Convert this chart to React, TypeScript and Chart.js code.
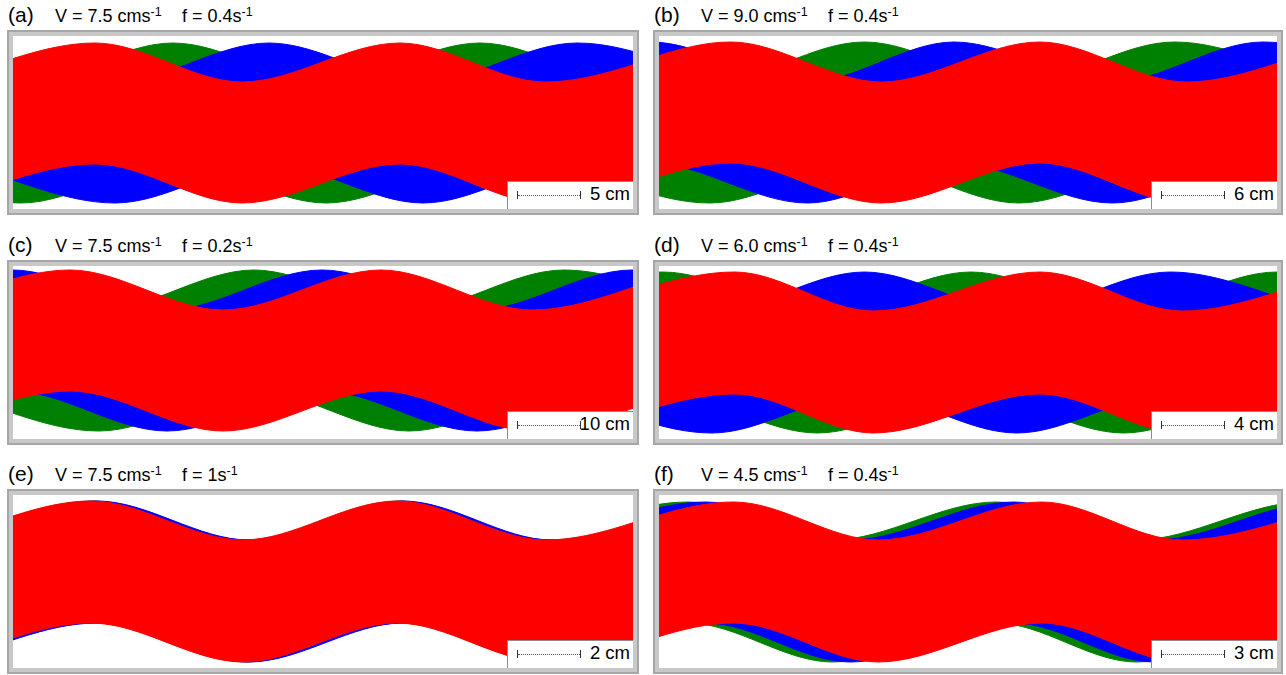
import React, { useEffect, useRef } from 'react';
import { Chart, registerables } from 'chart.js';

Chart.register(...registerables);

// Each band row: [x, top edge y, bottom edge y] at the crests / troughs
// (x in plot pixels from the left inner edge, y in plot pixels from the top inner edge)
type Row = [number, number, number];

const A_RED: Row[] = [[-76, 46, 167], [82, 7, 128], [229, 46, 167], [387, 7, 128], [532, 46, 167], [692, 7, 128]];
const A_GREEN: Row[] = [[-145, 7, 128], [8, 46, 167], [160, 7, 128], [313, 46, 167], [467, 7, 128], [620, 46, 167], [772, 7, 128]];
const A_BLUE: Row[] = [[-52, 7, 128], [102, 46, 167], [256, 7, 128], [410, 46, 167], [564, 7, 128], [718, 46, 167]];

const B_RED: Row[] = [[-81, 46, 167], [72, 6, 127], [223, 46, 167], [382, 6, 127], [529, 46, 167], [688, 6, 127]];
const B_GREEN: Row[] = [[-104, 6, 127], [51, 46, 167], [206, 6, 127], [361, 46, 167], [517, 6, 127], [670, 46, 167]];
const B_BLUE: Row[] = [[-160, 46, 167], [-9, 6, 127], [149, 46, 167], [296, 6, 127], [455, 46, 167], [606, 6, 127], [760, 46, 167]];

const C_RED: Row[] = [[-96, 44, 165], [57, 4, 125], [210, 44, 165], [368, 4, 125], [519, 44, 165], [675, 4, 125]];
const C_GREEN: Row[] = [[-69, 4, 125], [86, 44, 165], [241, 4, 125], [396, 44, 165], [551, 4, 125], [706, 44, 165]];
const C_BLUE: Row[] = [[-155, 44, 165], [-1, 4, 125], [154, 44, 165], [309, 4, 125], [464, 44, 165], [619, 4, 125], [774, 44, 165]];

const D_RED: Row[] = [[-91, 45, 167], [76, 6, 128], [215, 45, 167], [382, 6, 128], [525, 45, 167], [688, 6, 128]];
const D_GREEN: Row[] = [[-150, 45, 167], [4, 6, 128], [159, 45, 167], [313, 6, 128], [466, 45, 167], [620, 6, 128], [775, 45, 167]];
const D_BLUE: Row[] = [[-100, 6, 128], [53, 45, 167], [206, 6, 128], [359, 45, 167], [513, 6, 128], [666, 45, 167]];

const E_RED: Row[] = [[-76, 45, 167], [78, 6, 128], [230, 45, 167], [384, 6, 128], [533, 45, 167], [690, 6, 128]];
const E_GREEN: Row[] = [[-74, 45, 167], [81, 6, 128], [233, 45, 167], [387, 6, 128], [536, 45, 167], [693, 6, 128]];
const E_BLUE: Row[] = [[-70, 45, 167], [84, 6, 128], [236, 45, 167], [390, 6, 128], [539, 45, 167], [696, 6, 128]];

const F_RED: Row[] = [[-82, 45, 167], [75, 7, 128], [220, 45, 167], [384, 7, 128], [525, 45, 167], [694, 7, 128]];
const F_GREEN: Row[] = [[-128, 45, 167], [29, 7, 128], [174, 45, 167], [338, 7, 128], [479, 45, 167], [648, 7, 128], [800, 45, 167]];
const F_BLUE: Row[] = [[-110, 45, 167], [47, 7, 128], [192, 45, 167], [356, 7, 128], [497, 45, 167], [666, 7, 128], [818, 45, 167]];

const PANEL_LETTERS = ['(a)', '(b)', '(c)', '(d)', '(e)', '(f)'];
const VELOCITY_LABELS = ['7.5', '9.0', '7.5', '6.0', '7.5', '4.5'];
const FREQUENCY_LABELS = ['0.4', '0.4', '0.2', '0.4', '1', '0.4'];
const SCALE_BAR_LABELS = ['5 cm', '6 cm', '10 cm', '4 cm', '2 cm', '3 cm'];

// drawing order: first band is on top
const PANEL_BANDS: Row[][][] = [
  [A_RED, A_BLUE, A_GREEN],
  [B_RED, B_BLUE, B_GREEN],
  [C_RED, C_BLUE, C_GREEN],
  [D_RED, D_BLUE, D_GREEN],
  [E_RED, E_BLUE, E_GREEN],
  [F_RED, F_BLUE, F_GREEN],
];
const BAND_COLORS = ['#ff0000', '#0000ff', '#008000'];

const X_MAX = 620;
const Y_MAX = 173;

const FONT = '"Liberation Sans", Arial, Helvetica, sans-serif';

function BandChart({ bands, width, height }: { bands: Row[][]; width: number; height: number }) {
  const ref = useRef<HTMLCanvasElement | null>(null);
  useEffect(() => {
    if (!ref.current) return;
    const datasets: any[] = [];
    bands.forEach((band, i) => {
      const color = BAND_COLORS[i];
      const common = {
        borderColor: color,
        backgroundColor: color,
        borderWidth: 1,
        pointRadius: 0,
        pointHoverRadius: 0,
        cubicInterpolationMode: 'monotone',
        order: i,
      };
      datasets.push({ ...common, data: band.map((r) => ({ x: r[0], y: r[1] })), fill: '+1' });
      datasets.push({ ...common, data: band.map((r) => ({ x: r[0], y: r[2] })), fill: false });
    });
    const chart = new Chart(ref.current, {
      type: 'line',
      data: { datasets },
      options: {
        animation: false,
        responsive: false,
        maintainAspectRatio: false,
        devicePixelRatio: 1,
        events: [],
        layout: { padding: 0 },
        elements: { line: { capBezierPoints: false } },
        plugins: { legend: { display: false }, tooltip: { enabled: false }, title: { display: false } },
        scales: {
          x: { type: 'linear', min: 0, max: X_MAX, display: false },
          y: { type: 'linear', min: 0, max: Y_MAX, reverse: true, display: false },
        },
      } as any,
    });
    return () => chart.destroy();
  }, [bands, width, height]);
  return <canvas ref={ref} width={width} height={height} style={{ display: 'block', width, height }} />;
}

function Sup({ children }: { children: React.ReactNode }) {
  return <span style={{ fontSize: 12.5, position: 'relative', top: -6 }}>{children}</span>;
}

const COL_LEFT = [7, 653];
const ROW_TOP = [30, 260, 489];
const INNER_W = [620, 618];

function Panel({ index }: { index: number }) {
  const col = index % 2;
  const row = Math.floor(index / 2);
  const left = COL_LEFT[col];
  const top = ROW_TOP[row];
  const innerW = INNER_W[col];
  const baseline = top - 8;
  const textAbs = (x: number, fs: number): React.CSSProperties => ({
    position: 'absolute',
    left: x,
    top: baseline - 0.8465 * fs,
    fontSize: fs,
    lineHeight: `${fs}px`,
    whiteSpace: 'nowrap',
  });
  const dx = col * 646;
  return (
    <>
      <div style={textAbs(8 + dx, 21)}>{PANEL_LETTERS[index]}</div>
      <div style={textAbs(55 + dx, 18)}>
        V = {VELOCITY_LABELS[index]} cms<Sup>-1</Sup>
      </div>
      <div style={textAbs(182 + dx, 18)}>
        f = {FREQUENCY_LABELS[index]}s<Sup>-1</Sup>
      </div>
      <div
        style={{
          position: 'absolute',
          left,
          top,
          border: '2px solid #a6a6a6',
          background: '#c8c8c8',
          padding: 4,
        }}
      >
        <div style={{ position: 'relative', width: innerW, height: Y_MAX, background: '#fff' }}>
          <BandChart bands={PANEL_BANDS[index]} width={innerW} height={Y_MAX} />
          <div
            style={{
              position: 'absolute',
              right: 0,
              bottom: 0,
              width: 126,
              height: 28,
              boxSizing: 'border-box',
              background: '#fff',
              borderLeft: '1px solid #8c8c8c',
              borderTop: '1px solid #8c8c8c',
            }}
          >
            <div style={{ position: 'absolute', left: 9, top: 9, width: 1, height: 8, background: '#333' }} />
            <div style={{ position: 'absolute', left: 10, top: 13, width: 62, height: 0, borderTop: '1px dotted #555' }} />
            <div style={{ position: 'absolute', left: 72, top: 9, width: 1, height: 8, background: '#333' }} />
            <div
              style={{
                position: 'absolute',
                right: 3,
                top: 3,
                fontSize: 18.5,
                lineHeight: '18px',
                whiteSpace: 'nowrap',
              }}
            >
              {SCALE_BAR_LABELS[index]}
            </div>
          </div>
        </div>
      </div>
    </>
  );
}

export default function App() {
  return (
    <div
      style={{
        position: 'absolute',
        left: 0,
        top: 0,
        width: 1286,
        height: 675,
        background: '#fff',
        color: '#000',
        fontFamily: FONT,
        overflow: 'hidden',
      }}
    >
      {PANEL_LETTERS.map((_, i) => (
        <Panel key={i} index={i} />
      ))}
    </div>
  );
}
